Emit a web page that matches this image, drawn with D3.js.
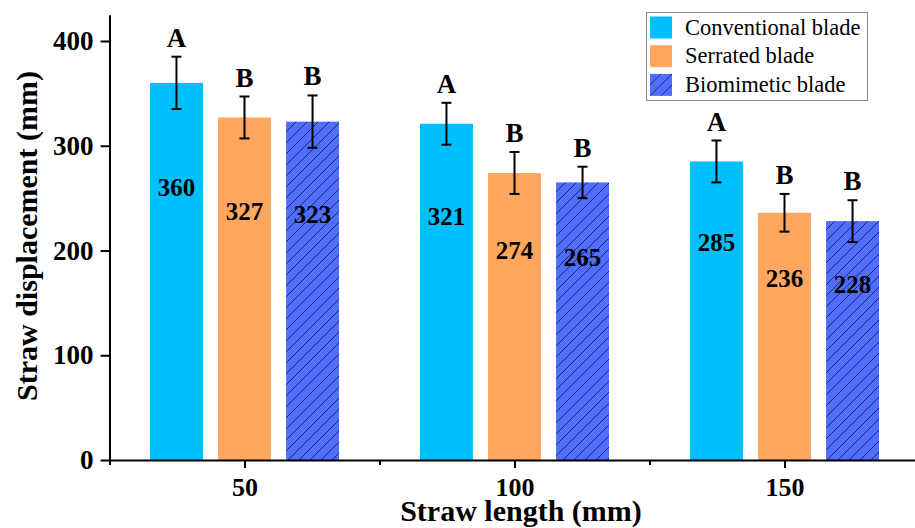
<!DOCTYPE html>
<html>
<head>
<meta charset="utf-8">
<script src="https://cdn.jsdelivr.net/npm/d3@7"></script>
<style>
  html, body { margin: 0; padding: 0; background: #fff; }
  svg { display: block; }
  text { font-family: "Liberation Serif", "Times New Roman", serif; }
</style>
</head>
<body>
<svg id="chart" width="915" height="528"></svg>
<script>
// ---- data ----
const lengths = [50, 100, 150];
const seriesNames = ["Conventional blade", "Serrated blade", "Biomimetic blade"];
const conventional = [360, 321, 285];
const serrated = [327, 274, 236];
const biomimetic = [323, 265, 228];
const errConventional = [25, 20, 20];
const errSerrated = [20, 20, 18];
const errBiomimetic = [25, 15, 20];
const lettersConventional = ["A", "A", "A"];
const lettersSerrated = ["B", "B", "B"];
const lettersBiomimetic = ["B", "B", "B"];
const yTicks = [0, 100, 200, 300, 400];
const xTicks = [50, 100, 150];
const xMinorTicks = [25, 75, 125];

// ---- layout ----
const svg = d3.select("#chart");
const colors = ["#00BFFF", "#FFA65F", "#4F6EFF"];
const x = d3.scaleLinear().domain([25, 175]).range([109.5, 919.5]);
const y = d3.scaleLinear().domain([0, 425]).range([460, 14.8]);
const offsetUnits = 12.6;   // group offset in data units
const barUnits = 9.8;       // bar width in data units

const defs = svg.append("defs");
const pat = defs.append("pattern").attr("id", "hatch")
  .attr("patternUnits", "userSpaceOnUse").attr("width", 11).attr("height", 11);
pat.append("rect").attr("width", 11).attr("height", 11).attr("fill", colors[2]);
pat.append("path").attr("d", "M0,11 L11,0 M-2,2 L2,-2 M9,13 L13,9")
  .attr("stroke", "#1B2350").attr("stroke-width", 0.9);

const series = [
  { name: seriesNames[0], values: conventional, err: errConventional, letters: lettersConventional, fill: colors[0] },
  { name: seriesNames[1], values: serrated, err: errSerrated, letters: lettersSerrated, fill: colors[1] },
  { name: seriesNames[2], values: biomimetic, err: errBiomimetic, letters: lettersBiomimetic, fill: "url(#hatch)" }
];

const barW = x(25 + barUnits) - x(25);
const items = [];
series.forEach((s, si) => {
  lengths.forEach((L, i) => {
    items.push({ si, s, L, v: s.values[i], e: s.err[i], letter: s.letters[i],
      cx: x(L + (si - 1) * offsetUnits) });
  });
});

// bars
svg.append("g").selectAll("rect").data(items).join("rect")
  .attr("x", d => d.cx - barW / 2)
  .attr("y", d => y(d.v))
  .attr("width", barW)
  .attr("height", d => y(0) - y(d.v))
  .attr("fill", d => d.s.fill);

// value labels
svg.append("g").selectAll("text").data(items).join("text")
  .attr("x", d => d.cx)
  .attr("y", d => y(d.v * 0.7))
  .attr("text-anchor", "middle")
  .attr("font-size", 25).attr("font-weight", "bold").attr("fill", "#000")
  .text(d => d.v);

// error bars
const eg = svg.append("g").attr("stroke", "#000").attr("stroke-width", 2).attr("fill", "none");
items.forEach(d => {
  eg.append("line").attr("x1", d.cx).attr("x2", d.cx).attr("y1", y(d.v + d.e)).attr("y2", y(d.v - d.e));
  eg.append("line").attr("x1", d.cx - 5).attr("x2", d.cx + 5).attr("y1", y(d.v + d.e)).attr("y2", y(d.v + d.e));
  eg.append("line").attr("x1", d.cx - 5).attr("x2", d.cx + 5).attr("y1", y(d.v - d.e)).attr("y2", y(d.v - d.e));
});

// significance letters
svg.append("g").selectAll("text").data(items).join("text")
  .attr("x", d => d.cx)
  .attr("y", d => y(d.v + d.e) - 10)
  .attr("text-anchor", "middle")
  .attr("font-size", 27).attr("font-weight", "bold").attr("fill", "#000")
  .text(d => d.letter);

// y axis
const yAxis = svg.append("g").attr("transform", `translate(${x(25)},0)`)
  .call(d3.axisLeft(y).tickValues(yTicks).tickSize(9).tickPadding(7).tickSizeOuter(0));
yAxis.select(".domain").attr("stroke-width", 2);
yAxis.selectAll(".tick line").attr("stroke-width", 2);
yAxis.selectAll(".tick text").attr("font-size", 27).attr("font-weight", "bold")
  .attr("font-family", "Liberation Serif, Times New Roman, serif").attr("fill", "#000");

// x axis
const xAxis = svg.append("g").attr("transform", `translate(0,${y(0)})`)
  .call(d3.axisBottom(x).tickValues(xTicks).tickSize(8).tickPadding(10).tickSizeOuter(0));
xAxis.select(".domain").attr("stroke-width", 2);
xAxis.selectAll(".tick line").attr("stroke-width", 2);
xAxis.selectAll(".tick text").attr("font-size", 26).attr("font-weight", "bold")
  .attr("font-family", "Liberation Serif, Times New Roman, serif").attr("fill", "#000");
const xMinor = svg.append("g").attr("transform", `translate(0,${y(0)})`)
  .call(d3.axisBottom(x).tickValues(xMinorTicks).tickSize(5).tickFormat("").tickSizeOuter(0));
xMinor.select(".domain").remove();
xMinor.selectAll(".tick line").attr("stroke-width", 2);

// axis titles
svg.append("text")
  .attr("transform", "translate(37,236) rotate(-90)")
  .attr("text-anchor", "middle").attr("font-size", 30).attr("font-weight", "bold")
  .text("Straw displacement (mm)");
svg.append("text")
  .attr("x", 521).attr("y", 521)
  .attr("text-anchor", "middle").attr("font-size", 30).attr("font-weight", "bold")
  .text("Straw length (mm)");

// legend
const lg = svg.append("g").attr("transform", "translate(646,12)");
lg.append("rect").attr("x", 0.5).attr("y", 0.5).attr("width", 221).attr("height", 88)
  .attr("fill", "#fff").attr("stroke", "#888").attr("stroke-width", 1);
series.forEach((s, i) => {
  const row = lg.append("g").attr("transform", `translate(4,${4.5 + i * 28.7})`);
  row.append("rect").attr("width", 22).attr("height", 22).attr("fill", s.fill);
  row.append("text").attr("x", 35).attr("y", 18).attr("font-size", 22.5).attr("fill", "#000")
    .text(s.name);
});
</script>
</body>
</html>
